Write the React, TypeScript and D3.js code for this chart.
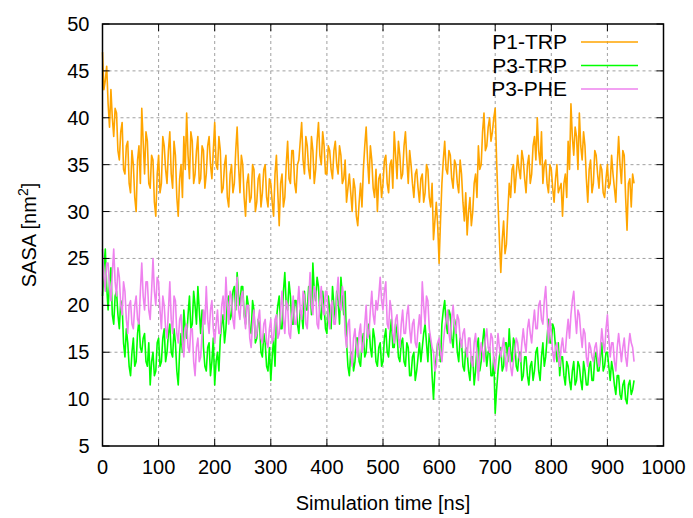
import React from "react";
import * as d3 from "d3";

// Sampling interval of each array below (ns); the *_MID arrays are read half a step later
const STEP_NS = 5;

// P1-TRP SASA (nm^2), at 0, 5, 10 ... 945 ns
const P1_TRP = [
  47, 44, 41.5, 43, 38, 40.5, 35.5, 39.5, 34, 37.5,
  32, 35, 30, 37, 41, 34, 37.5, 32.5, 35.5, 29.5,
  36, 33, 37, 33, 38.5, 32.5, 36, 29.5, 35, 38,
  40.5, 33.5, 37.5, 34, 38, 33.5, 36.5, 34, 38, 33.5,
  39.5, 34.5, 36.5, 32.5, 36, 30.5, 35, 33, 39, 32,
  35, 29.5, 34, 31.5, 34.5, 31, 34, 32, 35, 30.5,
  33, 29.5, 36, 28.5, 34, 31.5, 37.5, 33, 36.5, 32,
  35.5, 39.5, 34, 37, 33.5, 36.5, 34.5, 39.5, 35, 37,
  34, 36.5, 33.5, 37.5, 34, 36, 33.5, 31, 34, 30,
  32.5, 28.5, 33, 34.5, 39, 33, 35.5, 31.5, 30, 34,
  33, 36, 32, 35.5, 38.5, 33.5, 36, 34, 38.5, 33,
  35, 31.5, 34.5, 31, 34, 32, 34.5, 30.5, 27, 31,
  24.5, 33, 37.5, 34, 36, 32.5, 35, 32, 34, 29,
  27.5, 31.5, 30, 34, 37, 35, 40.5, 37, 40, 38.5,
  41, 31, 23.5, 29, 26.5, 33, 34.5, 32, 36, 33.5,
  35.5, 32, 36, 34, 38, 40, 35, 33, 35.5, 32,
  34.5, 31, 35, 32.5, 29.5, 34, 37.5, 41.5, 36, 38,
  40.5, 35.5, 37, 31, 35.5, 33, 36, 32.5, 34.5, 31.5,
  35, 33, 34, 31, 38, 33, 36, 28, 33.5, 34,
];
// P1-TRP at 2.5, 7.5 ... 947.5 ns
const P1_TRP_MID = [
  43, 45.5, 39, 40, 41, 36.5, 38.5, 34.5, 37, 33,
  36.5, 31.5, 35.5, 33, 37.5, 38.5, 33, 36, 31, 34,
  32, 38, 34.5, 36.5, 34, 37.5, 31.5, 33.5, 31.5, 34.5,
  36, 38.5, 33, 36.5, 33, 37, 32.5, 37, 35, 36.5,
  35, 38, 32, 35, 31.5, 34, 32, 36.5, 35, 36,
  31.5, 33, 31, 35, 30, 33.5, 30.5, 34.5, 31.5, 33.5,
  31, 34, 32, 33, 30.5, 35, 33.5, 36.5, 33, 35,
  37.5, 35.5, 38, 34.5, 38, 33, 37.5, 36, 38.5, 34,
  37, 34.5, 36.5, 35, 37, 33, 35.5, 32.5, 32, 33.5,
  29.5, 31, 30.5, 37, 35.5, 37, 32.5, 34.5, 33.5, 31.5,
  35.5, 33, 35, 32.5, 36, 37.5, 33.5, 37, 35.5, 36.5,
  33, 34, 32.5, 33.5, 31, 35, 31.5, 33, 29, 28.5,
  29, 35.5, 34.5, 36.5, 33.5, 35.5, 33, 35.5, 31, 32,
  30, 28.5, 33, 31.5, 34.5, 38.5, 36.5, 39, 37.5, 40,
  35.5, 27, 27, 25.5, 30, 31.5, 35, 34, 34.5, 36.5,
  33.5, 35, 33, 37, 35.5, 36.5, 38.5, 35, 33, 35,
  32.5, 33.5, 32, 33, 33, 31.5, 34.5, 38, 39, 34.5,
  37, 38.5, 33.5, 34.5, 32, 36.5, 34, 35, 32, 33.5,
  32.5, 36, 32.5, 35, 35, 36.5, 31.5, 33, 30.5, 33,
];

// P3-TRP SASA (nm^2)
const P3_TRP = [
  21, 26, 19.5, 24, 18, 21.5, 17.5, 20, 14.5, 16,
  12.5, 16.5, 14, 18.5, 15, 17, 13.5, 11.5, 15, 13,
  16.5, 14, 17.5, 15, 18, 14.5, 16, 11.5, 17, 19.5,
  16.5, 21, 18, 20, 22, 17, 15.5, 13, 16, 14,
  11.5, 15, 16.5, 19, 17.5, 21, 19, 22, 23.5, 20,
  22, 18, 20, 17, 19.5, 16.5, 18, 14.5, 16, 13,
  12, 16.5, 18.5, 21, 17.5, 23.5, 19.5, 21, 18, 20.5,
  17, 19, 21.5, 19.5, 22, 24.5, 20.5, 22, 18.5, 20,
  17, 19.5, 22, 18.5, 20.5, 23, 19, 16, 12.5, 15,
  14, 16.5, 13.5, 17, 15, 18, 14.5, 16.5, 13.5, 16,
  14, 17.5, 14.5, 18.5, 15.5, 17, 14, 16.5, 13.5, 15.5,
  12.5, 15, 13, 16, 15.5, 18, 14, 16, 10, 14.5,
  16, 18, 20.5, 17, 19, 15.5, 17.5, 14, 16, 13,
  15, 12, 14.5, 13, 16.5, 14, 17.5, 13.5, 15.5, 12.5,
  8.5, 13, 15.5, 13.5, 16, 17.5, 14, 16, 13, 15,
  12.5, 14.5, 11.5, 14, 13, 15.5, 12, 16, 14.5, 18.5,
  16, 17.5, 14, 12.5, 14.5, 11.5, 13.5, 11, 14, 12,
  13.5, 11, 13, 11.5, 14, 12, 15, 13, 16, 13.5,
  15, 12, 13, 10.5, 12.5, 10, 12, 9.5, 12, 11,
];
const P3_TRP_MID = [
  24, 22, 22.5, 19, 21, 19, 20.5, 16, 17.5, 13.5,
  15, 13.5, 17, 15.5, 16.5, 14, 16, 14, 12.5, 16,
  13.5, 16.5, 14, 17, 15, 17.5, 13, 15, 15, 17.5,
  19, 17.5, 21.5, 18, 19.5, 19.5, 13.5, 15.5, 12.5, 16.5,
  14, 13, 18, 16, 20.5, 18.5, 21.5, 19.5, 21, 22,
  19, 21, 17.5, 20.5, 16, 18.5, 15, 17, 13.5, 15.5,
  14.5, 13.5, 20, 17.5, 21.5, 20, 22.5, 18, 20.5, 18,
  19.5, 17.5, 19.5, 22, 19, 21.5, 23, 19, 21.5, 17.5,
  21, 17.5, 20, 21.5, 18, 21, 21.5, 13.5, 15, 13,
  16.5, 14, 16, 14.5, 17.5, 15.5, 17.5, 14, 15.5, 13.5,
  16.5, 15, 17, 15.5, 18, 14.5, 16, 14, 16, 12.5,
  14.5, 12, 14.5, 14, 17, 16, 17, 12.5, 13, 16,
  14, 19.5, 18, 19.5, 16.5, 18.5, 15, 16.5, 13.5, 15.5,
  13, 14.5, 11.5, 15.5, 13, 16, 15.5, 15, 12.5, 14.5,
  11, 14.5, 13, 16, 14, 15, 16.5, 13.5, 15, 12,
  14.5, 12.5, 13.5, 12, 15, 13, 14.5, 13.5, 16.5, 16,
  18, 15.5, 16, 14.5, 12.5, 14, 12, 13, 11.5, 14,
  12, 14, 11.5, 13.5, 12, 14.5, 13, 14.5, 13, 15,
  13.5, 14, 11.5, 12.5, 10.5, 11.5, 10, 11.5, 10.5, 12,
];

// P3-PHE SASA (nm^2)
const P3_PHE = [
  26, 21.5, 24.5, 20.5, 26, 21, 23, 19, 21.5, 17,
  20.5, 17.5, 21, 18, 24.5, 19.5, 22.5, 18.5, 25, 20,
  22.5, 17.5, 20, 16.5, 22.5, 17, 20.5, 16, 19, 14.5,
  18, 15, 17.5, 12.5, 16.5, 14.5, 19.5, 22, 17, 20.5,
  16, 19.5, 17, 21, 23, 18, 21, 17.5, 23, 18.5,
  21.5, 17.5, 20, 15.5, 19.5, 17, 19.5, 16, 18.5, 15.5,
  18.5, 16.5, 19, 17, 21.5, 17, 20, 16.5, 21, 18,
  22, 18.5, 21, 17.5, 23.5, 19, 21.5, 17.5, 22, 19,
  21.5, 17.5, 20.5, 18, 23, 19.5, 21, 15.5, 18.5, 13.5,
  17.5, 14.5, 18, 15.5, 20, 17, 21.5, 18, 19.5, 23,
  19.5, 22.5, 17.5, 19.5, 16, 19, 15.5, 19.5, 17, 20,
  16, 18.5, 15.5, 19, 22.5, 18, 20.5, 16.5, 15, 13.5,
  16.5, 14, 17.5, 19.5, 16, 20, 17, 18.5, 15.5, 17.5,
  14.5, 16.5, 13.5, 17, 12, 16, 14, 17.5, 15, 16.5,
  13, 17, 14.5, 16.5, 13, 15.5, 12.5, 15, 16, 14,
  17.5, 15, 18.5, 16, 19.5, 17.5, 20.5, 18, 22, 16,
  17, 14, 16, 13.5, 16.5, 15, 18.5, 19, 21.5, 17,
  19, 15.5, 17, 13.5, 15.5, 14, 16, 13.5, 17.5, 15,
  19, 14.5, 16, 13, 17, 14, 16.5, 13.5, 17, 15.5,
];
const P3_PHE_MID = [
  23, 24.5, 22, 23.5, 22.5, 24, 20, 22.5, 18.5, 20,
  18, 20, 18.5, 21.5, 21, 22.5, 19.5, 21.5, 21.5, 23,
  19.5, 21, 17.5, 19.5, 18.5, 21, 17, 18.5, 16, 17.5,
  15.5, 17.5, 14, 15.5, 14, 17, 18, 18.5, 19.5, 17.5,
  18, 17, 20, 18.5, 20, 21.5, 18.5, 21, 19.5, 21,
  19, 20, 16.5, 18, 16.5, 18.5, 16.5, 18, 16, 17.5,
  16, 18.5, 16.5, 19.5, 18.5, 20.5, 17, 19, 18, 20,
  19.5, 21.5, 18, 20.5, 20, 22, 18, 20.5, 19.5, 21.5,
  18.5, 20, 18, 21, 20, 22, 17, 18, 15, 16.5,
  15.5, 17, 15, 18, 16.5, 19.5, 19, 20.5, 21, 20.5,
  21.5, 18, 20.5, 17, 18.5, 16.5, 18, 17, 19, 17.5,
  18, 16, 17.5, 17, 20, 21, 17.5, 15.5, 13, 16,
  15, 16, 18.5, 17, 18.5, 18, 19, 16.5, 17, 15.5,
  16.5, 14, 16, 14.5, 14.5, 15, 16.5, 15.5, 17, 14,
  15, 15.5, 15.5, 14.5, 14.5, 13.5, 14, 16.5, 14.5, 16,
  16, 17.5, 17, 18, 17.5, 20, 18.5, 20.5, 19, 18.5,
  15, 15.5, 14.5, 15.5, 15, 17, 16.5, 20.5, 19, 19.5,
  17, 17.5, 14.5, 16, 14.5, 15.5, 14.5, 15.5, 16, 17.5,
  16.5, 16, 14, 15.5, 15.5, 15.5, 14.5, 15.5, 16, 14,
];

const SERIES_NAMES = ["P1-TRP", "P3-TRP", "P3-PHE"];
const SERIES_COLORS = ["#ffa500", "#00ff00", "#ee82ee"];
const SERIES_ON = [P1_TRP, P3_TRP, P3_PHE];
const SERIES_MID = [P1_TRP_MID, P3_TRP_MID, P3_PHE_MID];

const X_TICKS = [0, 100, 200, 300, 400, 500, 600, 700, 800, 900, 1000];
const Y_TICKS = [5, 10, 15, 20, 25, 30, 35, 40, 45, 50];

const W = 693;
const H = 518;
const M = { left: 102.5, right: 29.5, top: 24, bottom: 72 };
const FONT = "'Liberation Sans', Arial, sans-serif";
const FS = 20;

type Pt = [number, number];

function merge(on: number[], mid: number[]): Pt[] {
  const out: Pt[] = [];
  on.forEach((v, i) => {
    out.push([i * STEP_NS, v]);
    if (i < mid.length) out.push([i * STEP_NS + STEP_NS / 2, mid[i]]);
  });
  return out;
}

export default function App() {
  const x = d3.scaleLinear().domain([0, 1000]).range([M.left, W - M.right]);
  const y = d3.scaleLinear().domain([5, 50]).range([H - M.bottom, M.top]);
  const line = d3
    .line<Pt>()
    .x((d) => x(d[0]))
    .y((d) => y(d[1]));

  const x0 = x.range()[0];
  const x1 = x.range()[1];
  const y0 = y.range()[0];
  const y1 = y.range()[1];
  const tick = 7;

  return (
    <svg
      width={W}
      height={H}
      style={{ position: "absolute", left: 0, top: 0, background: "#fff" }}
      fontFamily={FONT}
    >
      <rect x={0} y={0} width={W} height={H} fill="#fff" />
      {/* grid */}
      <g stroke="#a0a0a0" strokeWidth={1} strokeDasharray="3,3">
        {X_TICKS.slice(1, -1).map((t) => (
          <line key={"gx" + t} x1={x(t)} x2={x(t)} y1={y0} y2={y1} />
        ))}
        {Y_TICKS.slice(1, -1).map((t) => (
          <line key={"gy" + t} x1={x0} x2={x1} y1={y(t)} y2={y(t)} />
        ))}
      </g>
      {/* series */}
      <g fill="none" strokeWidth={1.6} strokeLinejoin="round">
        {SERIES_ON.map((d, i) => (
          <path key={SERIES_NAMES[i]} d={line(merge(d, SERIES_MID[i])) || ""} stroke={SERIES_COLORS[i]} />
        ))}
      </g>
      {/* ticks */}
      <g stroke="#000" strokeWidth={1}>
        {X_TICKS.map((t) => (
          <g key={"tx" + t}>
            <line x1={x(t)} x2={x(t)} y1={y0} y2={y0 - tick} />
            <line x1={x(t)} x2={x(t)} y1={y1} y2={y1 + tick} />
          </g>
        ))}
        {Y_TICKS.map((t) => (
          <g key={"ty" + t}>
            <line x1={x0} x2={x0 + tick} y1={y(t)} y2={y(t)} />
            <line x1={x1} x2={x1 - tick} y1={y(t)} y2={y(t)} />
          </g>
        ))}
      </g>
      {/* frame */}
      <rect x={x0} y={y1} width={x1 - x0} height={y0 - y1} fill="none" stroke="#000" strokeWidth={1.5} />
      {/* tick labels */}
      <g fontSize={FS} fill="#000">
        {X_TICKS.map((t) => (
          <text key={"lx" + t} x={x(t)} y={y0 + 28} textAnchor="middle">
            {t}
          </text>
        ))}
        {Y_TICKS.map((t) => (
          <text key={"ly" + t} x={x0 - 13} y={y(t) + 7} textAnchor="end">
            {t}
          </text>
        ))}
      </g>
      {/* axis titles */}
      <text x={(x0 + x1) / 2} y={510} textAnchor="middle" fontSize={FS}>
        Simulation time [ns]
      </text>
      <text transform={`translate(36, ${(y0 + y1) / 2}) rotate(-90)`} textAnchor="middle" fontSize={FS}>
        SASA [nm<tspan dy={-8} fontSize={14}>2</tspan>
        <tspan dy={8}>]</tspan>
      </text>
      {/* legend */}
      <g fontSize={21}>
        {SERIES_NAMES.map((n, i) => (
          <g key={"lg" + n}>
            <text x={567} y={49 + i * 23.5} textAnchor="end">
              {n}
            </text>
            <line x1={581} x2={638} y1={42 + i * 23.5} y2={42 + i * 23.5} stroke={SERIES_COLORS[i]} strokeWidth={1.5} />
          </g>
        ))}
      </g>
    </svg>
  );
}
